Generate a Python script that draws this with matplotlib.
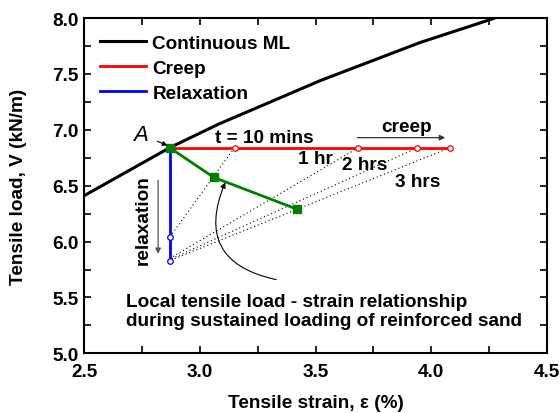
import numpy as np
import matplotlib
matplotlib.use("Agg")
import matplotlib.pyplot as plt
from matplotlib.ticker import MultipleLocator

plt.rcParams['font.family'] = ['Liberation Sans', 'DejaVu Sans']
plt.rcParams['font.weight'] = 'bold'
plt.rcParams['axes.labelweight'] = 'bold'

FS = 13.7

# continuous monotonic loading curve
ml_strain = [2.50, 2.87, 3.08, 3.43, 3.52, 3.95, 4.26, 4.30]
ml_load = [6.41, 6.84, 7.05, 7.36, 7.44, 7.78, 7.99, 8.02]

# point A where creep / relaxation start
a_strain, a_load = 2.87, 6.84

# creep at constant load
creep_strain = [3.15, 3.685, 3.94, 4.08]
creep_labels = ["t = 10 mins", "1 hr", "2 hrs", "3 hrs"]

# relaxation at constant strain
relax_load = [6.04, 5.85, 5.84, 5.83]

# local load-strain relationship
local_strain = [2.87, 3.06, 3.42]
local_load = [6.84, 6.575, 6.29]

fig = plt.figure(figsize=(5.6, 4.14), dpi=100)
ax = fig.add_axes([0.15, 0.144, 0.827, 0.81])

# dotted iso-time lines joining creep and relaxation states
for s, r in zip(creep_strain, relax_load):
    ax.plot([s, a_strain], [a_load, r], ls=(0, (1, 2.5)), color='black', lw=0.8)

ax.plot(ml_strain, ml_load, color='black', lw=2.2, label='Continuous ML')
ax.plot([a_strain] + creep_strain, [a_load] * 5, color='red', lw=2, label='Creep')
ax.plot([a_strain] * 5, [a_load] + relax_load, color='blue', lw=2, label='Relaxation')
ax.plot(creep_strain, [a_load] * 4, 'o', ms=4, mfc='white', mec='red', mew=0.9)
ax.plot([a_strain] * 2, [relax_load[0], relax_load[-1]], 'o', ms=4, mfc='white',
        mec='blue', mew=0.9)
ax.plot(local_strain, local_load, color='green', lw=2, marker='s', ms=6,
        mfc='green', mec='green')

# annotations
ax.annotate('A', xy=(a_strain - 0.01, a_load + 0.02), xytext=(2.745, 6.96),
            fontsize=16, fontstyle='italic', fontweight='normal', ha='center',
            va='center',
            arrowprops=dict(arrowstyle='-|>', color='black', lw=0.8,
                            mutation_scale=7, shrinkA=5, shrinkB=0))
ax.text(3.28, 6.935, creep_labels[0], fontsize=FS, ha='center', va='center')
ax.text(3.50, 6.74, creep_labels[1], fontsize=FS, ha='center', va='center')
ax.text(3.71, 6.69, creep_labels[2], fontsize=FS, ha='center', va='center')
ax.text(3.94, 6.535, creep_labels[3], fontsize=FS, ha='center', va='center')

ax.text(3.895, 7.03, 'creep', fontsize=FS, ha='center', va='center')
ax.annotate('', xy=(4.06, 6.93), xytext=(3.68, 6.93),
            arrowprops=dict(arrowstyle='-|>', color='#333333', lw=0.9,
                            mutation_scale=8, shrinkA=0, shrinkB=0))

ax.text(2.755, 6.2, 'relaxation', fontsize=FS, rotation=90, ha='center',
        va='center')
ax.annotate('', xy=(2.82, 5.89), xytext=(2.82, 6.55),
            arrowprops=dict(arrowstyle='-|>', color='#555555', lw=0.9,
                            mutation_scale=8, shrinkA=0, shrinkB=0))

ax.text(2.68, 5.38, 'Local tensile load - strain relationship\n'
        'during sustained loading of reinforced sand', fontsize=FS,
        ha='left', va='center', linespacing=1.2)
ax.annotate('', xy=(3.11, 6.53), xytext=(3.33, 5.66),
            arrowprops=dict(arrowstyle='-|>', color='black', lw=0.8,
                            mutation_scale=8, shrinkA=0, shrinkB=0,
                            connectionstyle='arc3,rad=-0.6'))

ax.set_xlim(2.5, 4.5)
ax.set_ylim(5.0, 8.0)
ax.xaxis.set_major_locator(MultipleLocator(0.5))
ax.xaxis.set_minor_locator(MultipleLocator(0.25))
ax.yaxis.set_major_locator(MultipleLocator(0.5))
ax.yaxis.set_minor_locator(MultipleLocator(0.25))
ax.xaxis.set_major_formatter(lambda v, p: f"{v:.1f}")
ax.yaxis.set_major_formatter(lambda v, p: f"{v:.1f}")
ax.tick_params(which='both', direction='in', top=True, right=True,
               length=5, width=1.2, labelsize=FS)
ax.tick_params(axis='x', pad=7)
ax.tick_params(axis='y', pad=4)
for lbl in ax.get_xticklabels() + ax.get_yticklabels():
    lbl.set_fontweight('bold')
for sp in ax.spines.values():
    sp.set_linewidth(1.5)

ax.set_xlabel('Tensile strain, \u03b5 (%)', fontsize=FS, labelpad=10)
ax.set_ylabel('Tensile load, V (kN/m)', fontsize=FS, labelpad=18)

ax.legend(loc='upper left', bbox_to_anchor=(0.0, 1.0), frameon=False,
          fontsize=FS, handlelength=2.4, handletextpad=0.35, labelspacing=0.42,
          borderaxespad=0.45)

fig.savefig('out.png', dpi=100)
